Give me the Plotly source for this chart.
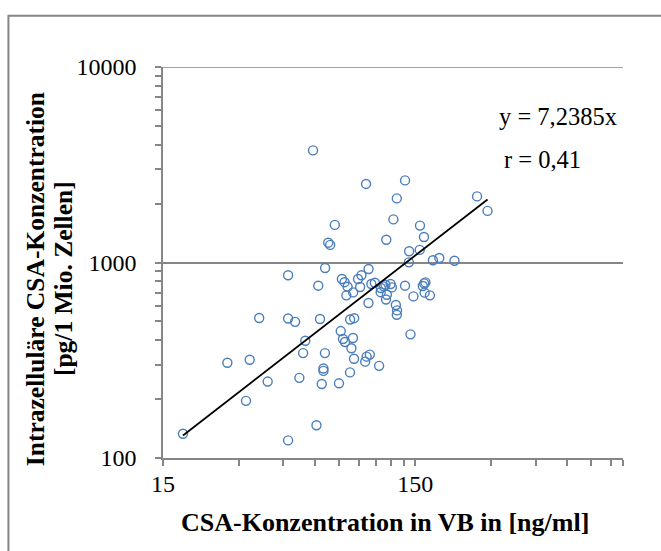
import math
import plotly.graph_objects as go

# CSA concentration in VB [ng/ml]
csa_vb = [18.0, 27.0, 33.1, 32.0, 39.0, 36.1, 47.0, 47.0, 50.1, 47.0,
          52.1, 53.9, 55.0, 60.9, 59.0, 61.9, 62.9, 63.9, 64.9, 64.9,
          65.8, 65.9, 67.8, 69.0, 72.0, 74.8, 76.0, 76.8, 77.6, 78.7,
          79.0, 80.0, 80.9, 82.7, 82.8, 83.8, 85.1, 85.0, 85.9, 85.8,
          89.0, 90.7, 91.8, 95.0, 95.8, 96.3, 97.9, 98.0, 99.1, 100.5,
          103.8, 107.9, 109.4, 109.6, 112.6, 114.3, 115.2, 115.8, 114.9, 119.8,
          121.2, 122.9, 126.8, 125.7, 127.1, 126.8, 136.7, 136.7, 141.9, 141.6,
          143.7, 147.6, 156.3, 156.7, 162.5, 160.8, 162.8, 164.7, 163.5, 171.6,
          176.4, 186.9, 214.7, 263.8, 290.3]
# intracellular CSA concentration [pg/1 Mio. Zellen]
csa_intra = [133, 307, 318, 196, 246, 520, 861, 517, 497, 123,
             257, 344, 398, 147, 3744, 761, 514, 239, 287, 279,
             344, 937, 1263, 1230, 1557, 241, 446, 823, 406, 793,
             392, 679, 752, 274, 511, 364, 703, 411, 519, 322,
             823, 749, 860, 311, 2523, 330, 621, 926, 338, 776,
             788, 296, 705, 741, 755, 770, 1308, 684, 647, 776,
             746, 1661, 2128, 606, 569, 540, 2630, 761, 1142, 1002,
             429, 671, 1160, 1544, 1350, 758, 782, 791, 701, 679,
             1027, 1054, 1021, 2178, 1836]

slope = 7.2385
x_title = "CSA-Konzentration in VB in [ng/ml]"
y_title_1 = "Intrazelluläre CSA-Konzentration"
y_title_2 = "[pg/1 Mio. Zellen]"
eq_text = "y = 7,2385x"
r_text = "r = 0,41"

x_major = [15, 150]
x_minor = [30, 45, 60, 75, 90, 105, 120, 135, 300, 450, 600, 750, 900, 1000]
y_major = [100, 1000, 10000]
y_minor = [200, 300, 400, 500, 600, 700, 800, 900,
           2000, 3000, 4000, 5000, 6000, 7000, 8000, 9000]

GRAY = "#868686"
BLUE = "#4A7EBB"
FONT = "Liberation Serif"

tx = [min(csa_vb), max(csa_vb)]
ty = [slope * v for v in tx]

fig = go.Figure()
fig.add_trace(go.Scatter(
    x=csa_vb, y=csa_intra, mode="markers",
    marker=dict(symbol="circle-open", size=9, color=BLUE, line=dict(width=1.4, color=BLUE)),
    showlegend=False, hoverinfo="skip"))
fig.add_trace(go.Scatter(
    x=tx, y=ty, mode="lines", line=dict(color="black", width=1.8),
    showlegend=False, hoverinfo="skip"))

fig.update_layout(
    width=661, height=551,
    margin=dict(l=163, r=38, t=67, b=93),
    paper_bgcolor="white", plot_bgcolor="white",
    font=dict(family=FONT, size=24, color="black"),
    xaxis=dict(
        type="log", range=[math.log10(15), math.log10(1000)],
        tickmode="array", tickvals=x_major, ticktext=[str(v) for v in x_major],
        ticks="outside", ticklen=6, tickwidth=1.5, tickcolor=GRAY,
        showline=True, linecolor=GRAY, linewidth=1.5,
        showgrid=False, zeroline=False, ticklabelstandoff=-3,
        minor=dict(tickmode="array", tickvals=x_minor, ticks="outside",
                   ticklen=6, tickwidth=1.5, tickcolor=GRAY, showgrid=False),
        tickfont=dict(family=FONT, size=24, color="black"),
    ),
    yaxis=dict(
        type="log", range=[2, 4],
        tickmode="array", tickvals=y_major, ticktext=[str(v) for v in y_major],
        ticks="outside", ticklen=6, tickwidth=1.5, tickcolor=GRAY,
        showline=True, linecolor=GRAY, linewidth=1.5,
        showgrid=True, gridcolor=GRAY, gridwidth=1.5, zeroline=False,
        ticklabelstandoff=14,
        minor=dict(tickmode="array", tickvals=y_minor, ticks="outside",
                   ticklen=6, tickwidth=1.5, tickcolor=GRAY, showgrid=False),
        tickfont=dict(family=FONT, size=24, color="black"),
    ),
    shapes=[
        dict(type="rect", xref="paper", yref="paper",
             x0=-0.336, x1=2.0, y0=-1.0, y1=1.131,
             line=dict(color=GRAY, width=2), fillcolor="rgba(0,0,0,0)", layer="below"),
        dict(type="line", xref="paper", yref="y", x0=0, x1=1,
             y0=y_major[-1], y1=y_major[-1],
             line=dict(color=GRAY, width=1.5), layer="below"),
    ],
    annotations=[
        dict(text=eq_text, xref="paper", yref="paper", x=0.7258, y=0.873,
             xanchor="left", yanchor="middle", showarrow=False,
             font=dict(family=FONT, size=24.5, color="black")),
        dict(text=r_text, xref="paper", yref="paper", x=0.7366, y=0.763,
             xanchor="left", yanchor="middle", showarrow=False,
             font=dict(family=FONT, size=24.5, color="black")),
        dict(text="<b>" + x_title + "</b>", xref="paper", yref="paper", x=0.483, y=-0.1655,
             xanchor="center", yanchor="middle", showarrow=False,
             font=dict(family=FONT, size=26, color="black")),
        dict(text="<b>" + y_title_1 + "</b>", xref="paper", yref="paper", x=-0.2772, y=0.4586,
             xanchor="center", yanchor="middle", showarrow=False, textangle=-90,
             font=dict(family=FONT, size=25.5, color="black")),
        dict(text="<b>" + y_title_2 + "</b>", xref="paper", yref="paper", x=-0.2165, y=0.4586,
             xanchor="center", yanchor="middle", showarrow=False, textangle=-90,
             font=dict(family=FONT, size=25.5, color="black")),
    ],
)

fig.write_html("out.html")
